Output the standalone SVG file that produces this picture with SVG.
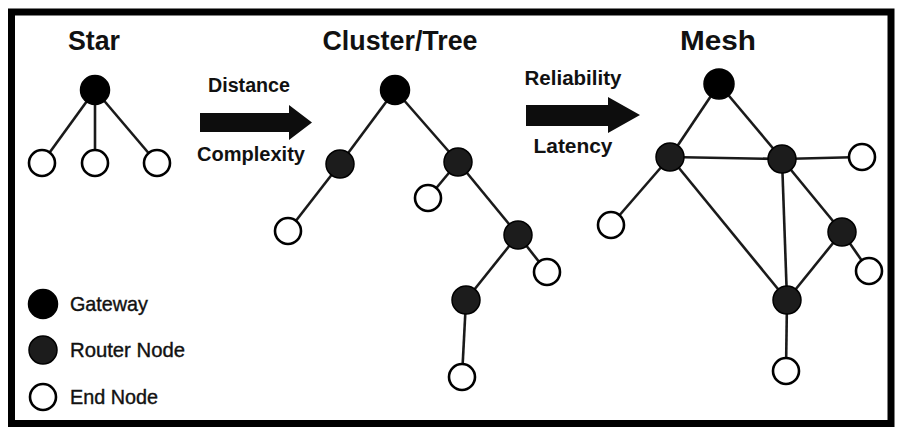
<svg xmlns="http://www.w3.org/2000/svg" width="897" height="429" viewBox="0 0 897 429">
<style>
.title{font-family:"Liberation Sans",Arial,sans-serif;font-weight:bold;font-size:28px;fill:#111;text-anchor:middle}
.lbl{font-family:"Liberation Sans",Arial,sans-serif;font-weight:bold;font-size:20px;fill:#111;text-anchor:middle}
.leg{font-family:"Liberation Sans",Arial,sans-serif;font-size:21px;fill:#111;stroke:#111;stroke-width:0.4}
.gw{fill:#000;stroke:#000;stroke-width:1.5}
.rt{fill:#1c1c1c;stroke:#000;stroke-width:1.5}
.en{fill:#fff;stroke:#000;stroke-width:2.6}
.edges line{stroke:#1a1a1a;stroke-width:2.6}
.arrow{fill:#0d0d0d}
</style>
<rect x="0" y="0" width="897" height="429" fill="#fff"/>
<rect x="11.5" y="12" width="879.5" height="411.5" fill="#fff" stroke="#000" stroke-width="7"/>

<g id="titles">
<text class="title" x="94" y="50" textLength="52" lengthAdjust="spacingAndGlyphs">Star</text>
<text class="title" x="400" y="50" textLength="155" lengthAdjust="spacingAndGlyphs">Cluster/Tree</text>
<text class="title" x="718" y="50" textLength="76" lengthAdjust="spacingAndGlyphs">Mesh</text>
</g>

<g id="arrow1">
<text class="lbl" x="249" y="92" textLength="82" lengthAdjust="spacingAndGlyphs">Distance</text>
<polygon class="arrow" points="200,113 289,113 289,105 312,122.5 289,140 289,132 200,132"/>
<text class="lbl" x="251" y="161" textLength="108" lengthAdjust="spacingAndGlyphs">Complexity</text>
</g>
<g id="arrow2">
<text class="lbl" x="573" y="85" textLength="97" lengthAdjust="spacingAndGlyphs">Reliability</text>
<polygon class="arrow" points="526,105 608,105 608,97 640,115 608,133 608,126 526,126"/>
<text class="lbl" x="573" y="153" textLength="79" lengthAdjust="spacingAndGlyphs">Latency</text>
</g>

<g class="edges" id="connectors">
<line x1="95" y1="90" x2="42" y2="163"/>
<line x1="95" y1="90" x2="95" y2="163"/>
<line x1="95" y1="90" x2="157" y2="163"/>
<line x1="395" y1="90" x2="340" y2="164"/>
<line x1="395" y1="90" x2="458" y2="162"/>
<line x1="340" y1="164" x2="288" y2="231"/>
<line x1="458" y1="162" x2="428" y2="198"/>
<line x1="458" y1="162" x2="518" y2="235"/>
<line x1="518" y1="235" x2="547" y2="272"/>
<line x1="518" y1="235" x2="466" y2="300"/>
<line x1="466" y1="300" x2="462" y2="377"/>
<line x1="719" y1="84" x2="670" y2="157"/>
<line x1="719" y1="84" x2="782" y2="159"/>
<line x1="670" y1="157" x2="782" y2="159"/>
<line x1="782" y1="159" x2="862" y2="157"/>
<line x1="670" y1="157" x2="611" y2="225"/>
<line x1="670" y1="157" x2="787" y2="300"/>
<line x1="782" y1="159" x2="787" y2="300"/>
<line x1="782" y1="159" x2="842" y2="232"/>
<line x1="842" y1="232" x2="787" y2="300"/>
<line x1="842" y1="232" x2="869" y2="271"/>
<line x1="787" y1="300" x2="786" y2="371"/>
</g>

<g id="star-gateway"><circle class="gw" cx="95" cy="90" r="14.5"/></g>
<g id="star-end1"><circle class="en" cx="42" cy="163" r="13"/></g>
<g id="star-end2"><circle class="en" cx="95" cy="163" r="13"/></g>
<g id="star-end3"><circle class="en" cx="157" cy="163" r="13"/></g>

<g id="tree-gateway"><circle class="gw" cx="395" cy="90" r="14.5"/></g>
<g id="tree-router1"><circle class="rt" cx="340" cy="164" r="14"/></g>
<g id="tree-router2"><circle class="rt" cx="458" cy="162" r="14"/></g>
<g id="tree-router3"><circle class="rt" cx="518" cy="235" r="14"/></g>
<g id="tree-router4"><circle class="rt" cx="466" cy="300" r="14"/></g>
<g id="tree-end1"><circle class="en" cx="288" cy="231" r="13"/></g>
<g id="tree-end2"><circle class="en" cx="428" cy="198" r="13"/></g>
<g id="tree-end3"><circle class="en" cx="547" cy="272" r="13"/></g>
<g id="tree-end4"><circle class="en" cx="462" cy="377" r="13"/></g>

<g id="mesh-gateway"><circle class="gw" cx="719" cy="84" r="15"/></g>
<g id="mesh-router1"><circle class="rt" cx="670" cy="157" r="14"/></g>
<g id="mesh-router2"><circle class="rt" cx="782" cy="159" r="14"/></g>
<g id="mesh-router3"><circle class="rt" cx="842" cy="232" r="14"/></g>
<g id="mesh-router4"><circle class="rt" cx="787" cy="300" r="14"/></g>
<g id="mesh-end1"><circle class="en" cx="862" cy="157" r="13"/></g>
<g id="mesh-end2"><circle class="en" cx="611" cy="225" r="13"/></g>
<g id="mesh-end3"><circle class="en" cx="869" cy="271" r="13"/></g>
<g id="mesh-end4"><circle class="en" cx="786" cy="371" r="13"/></g>

<g id="legend-gateway"><circle class="gw" cx="43" cy="304" r="14.5"/><text class="leg" x="70" y="311" textLength="78" lengthAdjust="spacingAndGlyphs">Gateway</text></g>
<g id="legend-router"><circle class="rt" cx="43" cy="350" r="14"/><text class="leg" x="70" y="357" textLength="115" lengthAdjust="spacingAndGlyphs">Router Node</text></g>
<g id="legend-end"><circle class="en" cx="43" cy="397" r="13"/><text class="leg" x="70" y="404" textLength="88" lengthAdjust="spacingAndGlyphs">End Node</text></g>
</svg>
